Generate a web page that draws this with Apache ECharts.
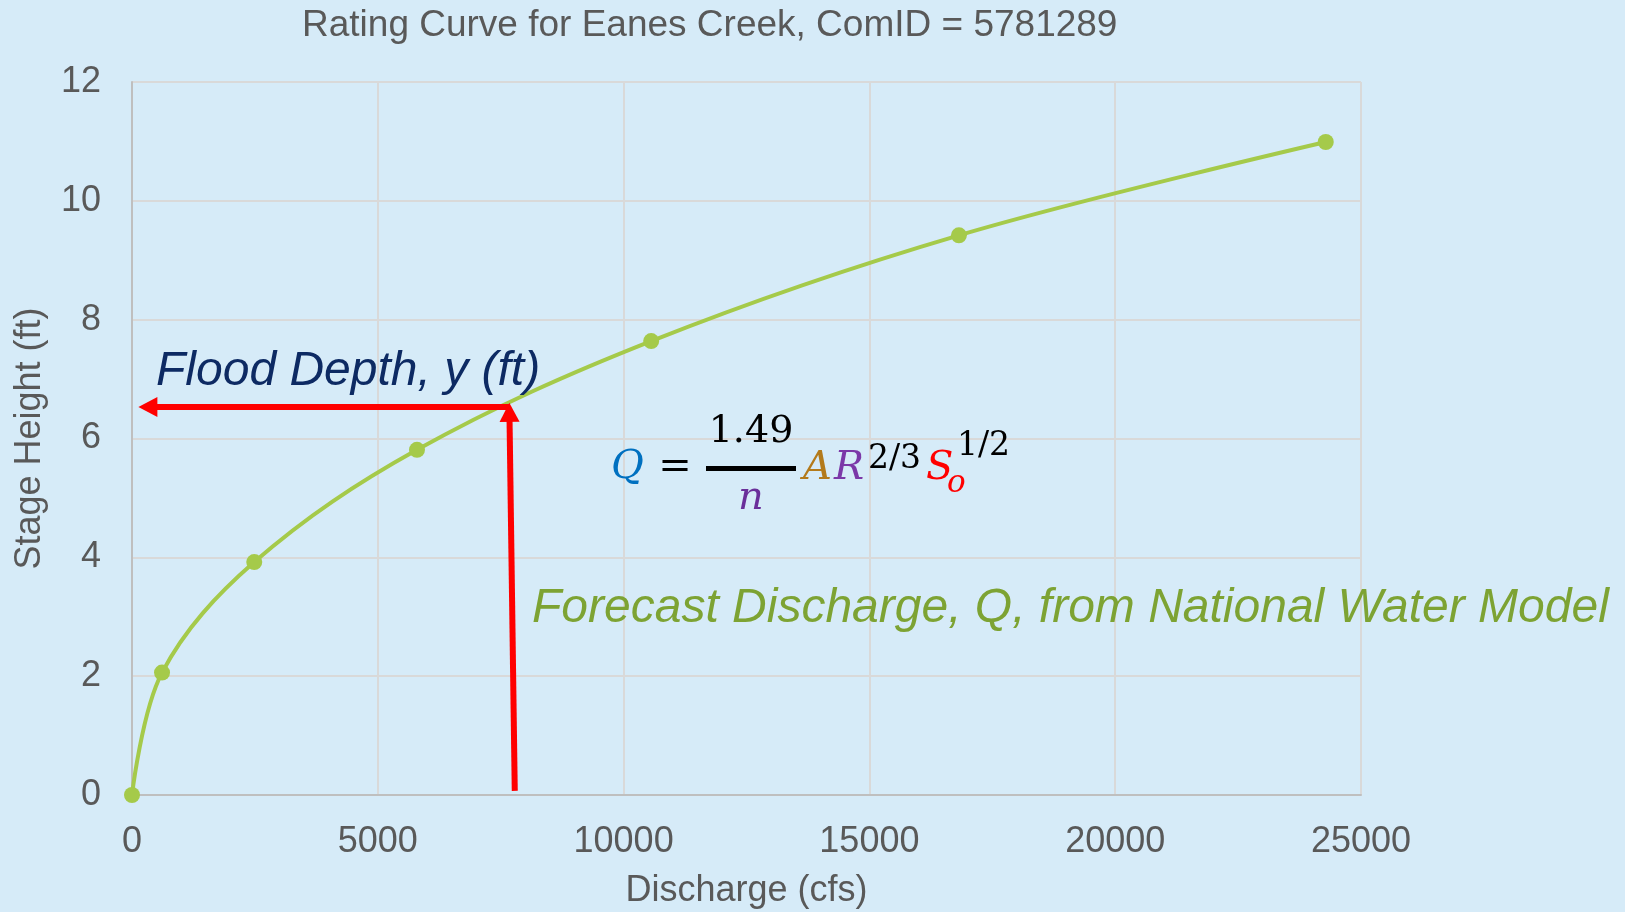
<!DOCTYPE html>
<html>
<head>
<meta charset="utf-8">
<title>Rating Curve for Eanes Creek</title>
<script src="https://cdn.jsdelivr.net/npm/echarts@6/dist/echarts.min.js"></script>
<style>
  html, body { margin: 0; padding: 0; background: #D6EBF8; }
  #chart { width: 1625px; height: 912px; }
</style>
</head>
<body>
<div id="chart"></div>
<script>
// Rating curve points: discharge (cfs) vs. stage height (ft)
const discharge = [0, 611, 2487, 5797, 10561, 16821, 24283];
const stage = [0, 2.06, 3.92, 5.81, 7.64, 9.42, 10.99];

// Axis ticks
const xTicks = [0, 5000, 10000, 15000, 20000, 25000];
const yTicks = [0, 2, 4, 6, 8, 10, 12];

// Annotation arrows: [fromX, fromY, toX, toY] in data units
const dischargeArrow = [7786, 0.07, 7675, 6.6];   // forecast discharge up to the curve
const floodDepthArrow = [7675, 6.53, 130, 6.53];  // curve across to the stage axis

const chart = echarts.init(document.getElementById('chart'), null, { renderer: 'canvas' });

const sans = 'Liberation Sans, Arial, sans-serif';
const axisText = { color: '#595959', fontFamily: sans, fontSize: 36 };

function arrowItem(params, api) {
  const p0 = api.coord([api.value(0), api.value(1)]);
  const p1 = api.coord([api.value(2), api.value(3)]);
  const dx = p1[0] - p0[0], dy = p1[1] - p0[1];
  const len = Math.sqrt(dx * dx + dy * dy);
  const ux = dx / len, uy = dy / len;
  const headLen = 19, headHalf = 10;
  const bx = p1[0] - ux * headLen, by = p1[1] - uy * headLen;
  const nx = -uy, ny = ux;
  return {
    type: 'group',
    children: [
      {
        type: 'line',
        shape: { x1: p0[0], y1: p0[1], x2: bx + ux * 2, y2: by + uy * 2 },
        style: { stroke: '#FF0000', lineWidth: 6 }
      },
      {
        type: 'polygon',
        shape: { points: [[p1[0], p1[1]], [bx + nx * headHalf, by + ny * headHalf], [bx - nx * headHalf, by - ny * headHalf]] },
        style: { fill: '#FF0000' }
      }
    ]
  };
}

const serif = 'DejaVu Serif, Liberation Serif, serif';
// Manning's equation, placed piece by piece (x, baseline y)
const formula = [
  { text: 'Q', x: 611, y: 482, fs: 40, style: 'italic', color: '#0070C0', align: 'left' },
  { text: '=', x: 675, y: 482, fs: 40, style: 'normal', color: '#000000', align: 'center' },
  { text: '1.49', x: 751, y: 446, fs: 38, style: 'normal', color: '#000000', align: 'center' },
  { text: 'n', x: 751, y: 513, fs: 40, style: 'italic', color: '#6A2F9A', align: 'center' },
  { text: 'A', x: 803, y: 483, fs: 40, style: 'italic', color: '#B37A1B', align: 'left' },
  { text: 'R', x: 834, y: 483, fs: 40, style: 'italic', color: '#7B38A8', align: 'left' },
  { text: '2/3', x: 868, y: 471, fs: 33, style: 'normal', color: '#000000', align: 'left' },
  { text: 'S', x: 926, y: 483, fs: 40, style: 'italic', color: '#FF0000', align: 'left' },
  { text: 'o', x: 947, y: 495, fs: 31, style: 'italic', color: '#FF0000', align: 'left' },
  { text: '1/2', x: 957, y: 458, fs: 33, style: 'normal', color: '#000000', align: 'left' }
];

const graphics = formula.map(f => ({
  type: 'text',
  x: f.x,
  y: f.y - 0.36 * f.fs,
  style: {
    text: f.text,
    fill: f.color,
    font: f.style + ' ' + f.fs + 'px ' + serif,
    align: f.align,
    verticalAlign: 'middle'
  },
  z: 100
}));
graphics.push({
  type: 'rect',
  shape: { x: 706, y: 466, width: 90, height: 5 },
  style: { fill: '#000000' },
  z: 100
});
graphics.push({
  type: 'text',
  x: 156,
  y: 389 - 0.36 * 48,
  style: {
    text: 'Flood Depth, y (ft)',
    fill: '#0D2A63',
    font: 'italic 48px ' + sans,
    align: 'left',
    verticalAlign: 'middle'
  },
  z: 100
});
graphics.push({
  type: 'text',
  x: 532,
  y: 626 - 0.36 * 48,
  style: {
    text: 'Forecast Discharge, Q, from National Water Model',
    fill: '#7DA333',
    font: 'italic 48px ' + sans,
    align: 'left',
    verticalAlign: 'middle'
  },
  z: 100
});

const option = {
  backgroundColor: '#D6EBF8',
  animation: false,
  title: {
    text: 'Rating Curve for Eanes Creek, ComID = 5781289',
    left: 297,
    top: 2,
    textStyle: { color: '#595959', fontFamily: sans, fontSize: 37, fontWeight: 'normal' }
  },
  grid: { left: 132, right: 264, top: 82, bottom: 117, containLabel: false, outerBoundsMode: 'none' },
  xAxis: {
    type: 'value',
    min: xTicks[0],
    max: xTicks[xTicks.length - 1],
    interval: xTicks[1] - xTicks[0],
    name: 'Discharge (cfs)',
    nameLocation: 'middle',
    nameGap: 78,
    nameTextStyle: axisText,
    axisLine: { show: true, lineStyle: { color: '#BFBFBF', width: 2 } },
    axisTick: { show: false },
    axisLabel: Object.assign({ margin: 29, formatter: v => String(v) }, axisText),
    splitLine: { show: true, lineStyle: { color: '#D9D9D9', width: 2 } }
  },
  yAxis: {
    type: 'value',
    min: yTicks[0],
    max: yTicks[yTicks.length - 1],
    interval: yTicks[1] - yTicks[0],
    name: 'Stage Height (ft)',
    nameLocation: 'middle',
    nameGap: 84,
    nameTextStyle: axisText,
    axisLine: { show: true, lineStyle: { color: '#BFBFBF', width: 2 } },
    axisTick: { show: false },
    axisLabel: Object.assign({ margin: 31, formatter: v => String(v) }, axisText),
    splitLine: { show: true, lineStyle: { color: '#D9D9D9', width: 2 } }
  },
  series: [
    {
      name: 'Rating Curve',
      type: 'line',
      data: discharge.map((q, i) => [q, stage[i]]),
      smooth: 0.35,
      symbol: 'circle',
      symbolSize: 16,
      showSymbol: true,
      itemStyle: { color: '#A5CA4A' },
      lineStyle: { color: '#A5CA4A', width: 4 },
      z: 3
    },
    {
      name: 'Arrows',
      type: 'custom',
      coordinateSystem: 'cartesian2d',
      renderItem: arrowItem,
      data: [dischargeArrow, floodDepthArrow],
      clip: false,
      z: 5
    }
  ],
  graphic: graphics
};

chart.setOption(option);
</script>
</body>
</html>
